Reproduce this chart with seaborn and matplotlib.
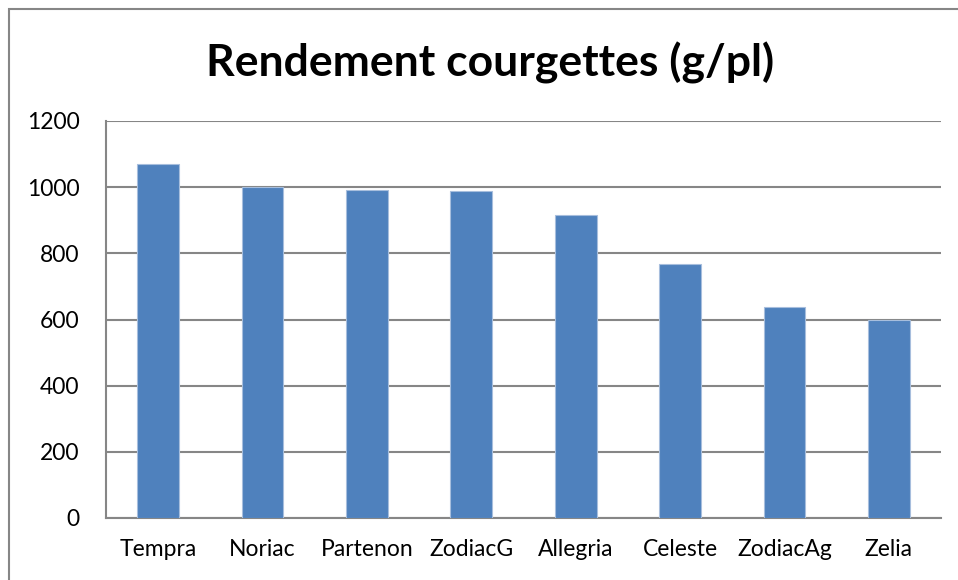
import pandas as pd
import matplotlib.pyplot as plt
import seaborn as sns
from matplotlib.patches import Rectangle

sns.set_theme(style="white")
plt.rcParams['font.family'] = ['Lato', 'DejaVu Sans']

varietes = ['Tempra', 'Noriac', 'Partenon', 'ZodiacG', 'Allegria', 'Celeste', 'ZodiacAg', 'Zelia']
rendement = [1071, 1000, 990, 987, 917, 767, 638, 598]
yticks = [0, 200, 400, 600, 800, 1000, 1200]

df = pd.DataFrame({'variete': varietes, 'rendement': rendement})

fig = plt.figure(figsize=(9.58, 5.8), dpi=100)
ax = fig.add_axes([106 / 958, 62 / 580, 835 / 958, 397 / 580])

sns.barplot(data=df, x='variete', y='rendement', color='#4F81BD', width=0.4,
            saturation=1, edgecolor='#A7BEDD', linewidth=0.8, ax=ax, zorder=3)

ax.set_ylim(0, 1200)
ax.set_yticks(yticks)
ax.set_xlim(-0.5, len(varietes) - 0.5)
ax.yaxis.grid(True, color='#868686', linewidth=1.5, zorder=0)
ax.set_axisbelow(True)
for side in ['top', 'right']:
    ax.spines[side].set_visible(False)
for side in ['left', 'bottom']:
    ax.spines[side].set_color('#868686')
    ax.spines[side].set_linewidth(1.5)
ax.tick_params(axis='y', length=0, pad=19, labelsize=16.5, labelcolor='black')
ax.tick_params(axis='x', length=0, pad=15, labelsize=16.5, labelcolor='black')
ax.set_xlabel('')
ax.set_ylabel('')

fig.text(490 / 958, 1 - 63 / 580, 'Rendement courgettes (g/pl)', ha='center', va='center',
         fontsize=32, fontweight='bold', color='black')

# cadre du graphique
fig.patches.append(Rectangle((9 / 958, -0.1), 1.2, 1.1 - 9 / 580, transform=fig.transFigure,
                             fill=False, edgecolor='#868686', linewidth=1.5))

fig.savefig('out.png', dpi=100)
